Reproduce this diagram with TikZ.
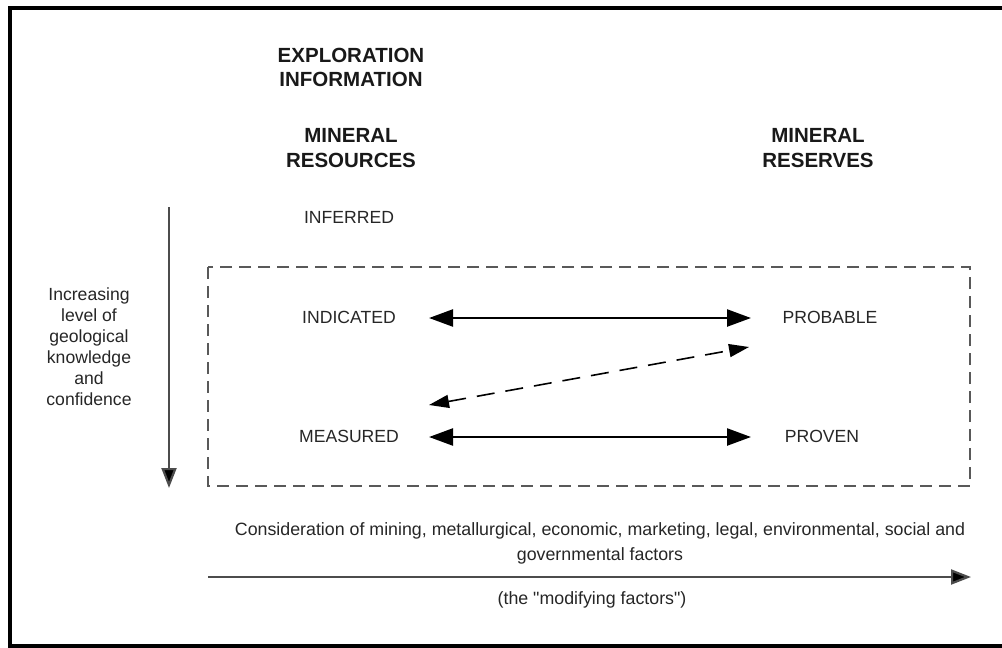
\documentclass[tikz,border=0pt]{standalone}
\usepackage{fontspec}
\setmainfont{Liberation Sans}
\usetikzlibrary{arrows.meta}
\begin{document}
\begin{tikzpicture}[x=1pt,y=-1pt,
  lbl/.style={font=\fontsize{17.6}{21}\selectfont, text=black!85, inner sep=0pt, align=center},
  head/.style={font=\bfseries\fontsize{20.5}{24.5}\selectfont, text=black!90, inner sep=0pt, align=center},
  small/.style={font=\fontsize{17.8}{25}\selectfont, text=black!85, inner sep=0pt, align=center},
  dbl/.style={line width=2.4pt, {Triangle[length=24pt,width=17pt]}-{Triangle[length=24pt,width=17pt]}},
  dsh/.style={line width=1.6pt, dash pattern=on 18pt off 11pt, {Triangle[length=20pt,width=13pt]}-{Triangle[length=20pt,width=13pt]}},
  box/.style={draw=black!65, line width=1.8pt, dash pattern=on 12pt off 7pt},
  axis/.style={draw=black!70, line width=2.2pt, -{Triangle[length=20pt,width=15pt,fill=black]}}
]
\useasboundingbox (0,0) rectangle (1002,648);
\draw[line width=4pt] (1002,8) -- (10,8) -- (10,646) -- (1002,646);

\node[head] (expl) at (351,67.5) {EXPLORATION\\INFORMATION};
\node[head] (res) at (351,148) {MINERAL\\RESOURCES};
\node[head] (resv) at (818,148) {MINERAL\\RESERVES};

\node[lbl] (inf) at (349,217) {INFERRED};
\node[lbl] (ind) at (349,317) {INDICATED};
\node[lbl] (meas) at (349,436) {MEASURED};
\node[lbl] (prob) at (830,317) {PROBABLE};
\node[lbl] (prov) at (822,436) {PROVEN};

\node[lbl] (know) at (89,347) {Increasing\\level of\\geological\\knowledge\\and\\confidence};

\draw[box] (208,267) rectangle (970,486);

\coordinate (vt) at (169,207);
\coordinate (vb) at (169,488);
\draw[axis] (vt) -- (vb);

\coordinate (a1) at (429,318);
\coordinate (a2) at (751,318);
\coordinate (b1) at (429,437);
\coordinate (b2) at (751,437);
\coordinate (d1) at (429,405);
\coordinate (d2) at (749,347);
\draw[dbl] (a1) -- (a2);
\draw[dbl] (b1) -- (b2);
\draw[dsh] (d1) -- (d2);

\node[small] (cons) at (600,543.5) {Consideration of mining, metallurgical, economic, marketing, legal, environmental, social and\\governmental factors};
\coordinate (h1) at (208,577);
\coordinate (h2) at (971,577);
\draw[axis] (h1) -- (h2);
\node[small] (mod) at (592,600) {(the \textquotedbl modifying factors\textquotedbl)};
\end{tikzpicture}
\end{document}
